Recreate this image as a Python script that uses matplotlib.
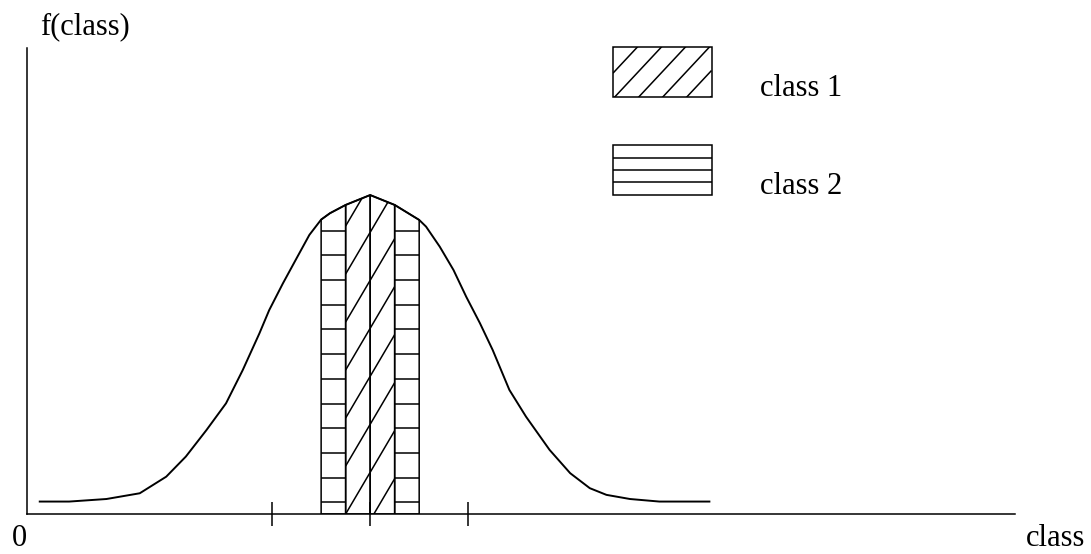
import numpy as np
import matplotlib
matplotlib.use("Agg")
import matplotlib.pyplot as plt
from matplotlib.patches import Polygon, Rectangle
from matplotlib.collections import LineCollection
from matplotlib.transforms import IdentityTransform

# curve f(class)
class_x = [0.13, 0.43, 0.81, 1.15, 1.42, 1.62, 1.83, 2.03, 2.20, 2.37, 2.47,
           2.61, 2.75, 2.88, 3.00, 3.09, 3.25, 3.50, 3.75, 4.00, 4.07, 4.21,
           4.35, 4.48, 4.62, 4.75, 4.92, 5.09, 5.33, 5.54, 5.74, 5.91, 6.15,
           6.45, 6.96]
f_class = [0.039, 0.039, 0.047, 0.065, 0.117, 0.180, 0.263, 0.347, 0.451,
           0.566, 0.639, 0.723, 0.802, 0.875, 0.923, 0.943, 0.969, 1.000,
           0.969, 0.922, 0.901, 0.838, 0.765, 0.681, 0.598, 0.514, 0.389,
           0.305, 0.201, 0.128, 0.081, 0.060, 0.047, 0.039, 0.039]

# shaded bins under the curve and which class each belongs to
bin_edges = [3.0, 3.25, 3.5, 3.75, 4.0]
bin_class = [2, 1, 1, 2]

tick_pos = [2.5, 3.5, 4.5]
legend_labels = ["class 1", "class 2"]

W, H, DPI = 1091, 554, 100
SERIF = "Liberation Serif"
FS = 22
LW = 1.1

fig = plt.figure(figsize=(W / DPI, H / DPI), dpi=DPI)
ax = fig.add_axes([27 / W, 40 / H, 988 / W, 466 / H])
ax.set_xlim(0, 10.077)
ax.set_ylim(0, 1.461)

for s in ["top", "right"]:
    ax.spines[s].set_visible(False)
for s in ["left", "bottom"]:
    ax.spines[s].set_linewidth(LW)
ax.set_xticks(tick_pos)
ax.tick_params(axis="x", direction="inout", length=17, width=LW, labelbottom=False)
ax.set_yticks([])


def hatch(patch, bbox, gap, x0, y0, slope=None):
    # parallel lines in pixel space, clipped to the patch
    xmin, ymin, xmax, ymax = bbox
    segs = []
    if slope is None:
        for y in np.arange(y0, ymax - 1.5, gap):
            segs.append([(xmin, y), (xmax, y)])
    else:
        kmin = int(np.floor((ymin - y0 - slope * (xmax - x0)) / gap))
        kmax = int(np.ceil((ymax - y0 - slope * (xmin - x0)) / gap))
        for k in range(kmin, kmax + 1):
            segs.append([(xmin, y0 + slope * (xmin - x0) + k * gap),
                         (xmax, y0 + slope * (xmax - x0) + k * gap)])
    lc = LineCollection(segs, colors="k", linewidths=LW, transform=IdentityTransform())
    fig.add_artist(lc)
    lc.set_clip_path(patch)


cx = np.array(class_x)
cf = np.array(f_class)
base_px = ax.transData.transform((0, 0))[1]
# class 1 hatch runs on through both of its bins
c1_start = min(a for a, c in zip(bin_edges[:-1], bin_class) if c == 1)
c1_x0 = ax.transData.transform((c1_start, 0))[0]

for a, b, cls in zip(bin_edges[:-1], bin_edges[1:], bin_class):
    inner = (cx > a) & (cx < b)
    xs = np.concatenate([[a, a], cx[inner], [b, b]])
    ys = np.concatenate([[0, np.interp(a, cx, cf)], cf[inner], [np.interp(b, cx, cf), 0]])
    poly = Polygon(np.column_stack([xs, ys]), closed=True, fill=False,
                   edgecolor="k", linewidth=LW)
    ax.add_patch(poly)
    (px0, py0), (px1, py1) = ax.transData.transform([(a, 0), (b, ys.max())])
    if cls == 2:
        hatch(poly, (px0, py0, px1, py1), 24.7, px0, base_px + 11.7)
    else:
        hatch(poly, (px0, py0, px1, py1), 48, c1_x0, base_px, slope=1.7)

ax.plot(class_x, f_class, color="k", linewidth=1.4, solid_joinstyle="round")

# legend boxes (pixel coordinates of the figure)
boxes = [(613, 457.3, 98.5, 50), (613, 359, 98.5, 50)]
label_base = [96, 194]
for (bx, by, bw, bh), lab, yb, cls in zip(boxes, legend_labels, label_base, [1, 2]):
    rect = Rectangle((bx, by), bw, bh, fill=False, edgecolor="k",
                     linewidth=LW, transform=IdentityTransform())
    fig.add_artist(rect)
    if cls == 1:
        hatch(rect, (bx, by, bx + bw, by + bh), 25.7, bx + 2, by, slope=1.07)
    else:
        hatch(rect, (bx, by, bx + bw, by + bh), 12.4, bx, by + 12.6)
    fig.text(760 / W, 1 - yb / H, lab, ha="left", va="baseline",
             family=SERIF, fontsize=FS)

fig.text(40 / W, 1 - 34 / H, "f(class)", ha="left", va="baseline",
         family=SERIF, fontsize=FS)
fig.text(12 / W, 1 - 546 / H, "0", ha="left", va="baseline",
         family=SERIF, fontsize=FS)
fig.text(1026 / W, 1 - 546 / H, "class", ha="left", va="baseline",
         family=SERIF, fontsize=FS)

fig.savefig("out.png", dpi=DPI)
